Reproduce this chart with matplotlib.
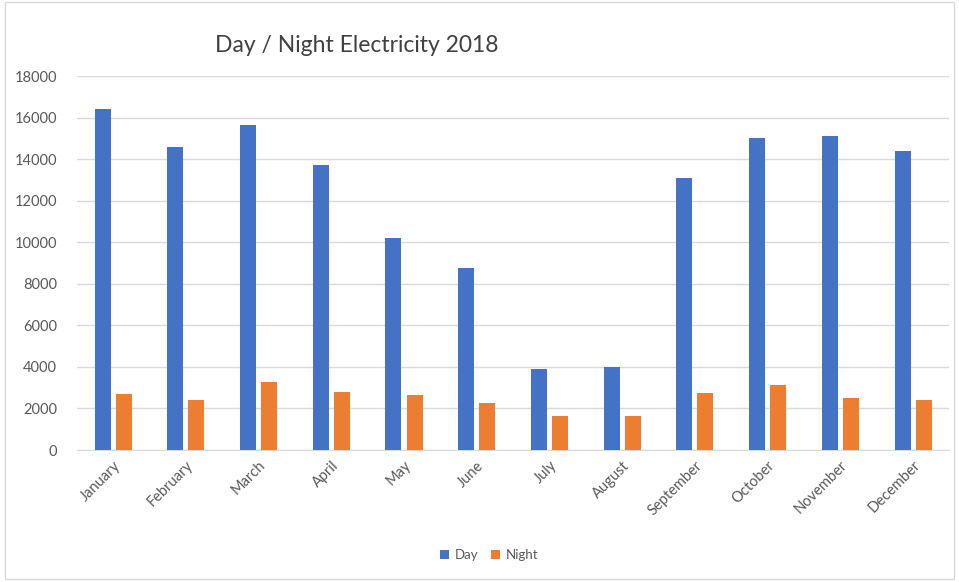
import matplotlib
matplotlib.use("Agg")
import matplotlib.pyplot as plt
import numpy as np
from matplotlib.patches import Rectangle

months = ["January", "February", "March", "April", "May", "June", "July",
          "August", "September", "October", "November", "December"]
day = [16400, 14600, 15650, 13700, 10200, 8750, 3900, 4000, 13100, 15000, 15100, 14400]
night = [2700, 2400, 3250, 2800, 2650, 2250, 1650, 1650, 2750, 3150, 2500, 2400]
yticks = [0, 2000, 4000, 6000, 8000, 10000, 12000, 14000, 16000, 18000]

plt.rcParams['font.family'] = ['Lato', 'DejaVu Sans']

fig = plt.figure(figsize=(9.59, 5.82), dpi=100)
ax = fig.add_axes([0.080, 0.2268, 0.910, 0.6425])

x = np.arange(len(months))
w = 0.22
ax.bar(x - 0.145, day, width=w, color="#4472C4", label="Day", zorder=3)
ax.bar(x + 0.145, night, width=w, color="#ED7D31", label="Night", zorder=3)

ax.set_xlim(-0.5, len(months) - 0.5)
ax.set_ylim(0, 18000)
ax.set_yticks(yticks)
ax.set_yticklabels([str(v) for v in yticks], fontsize=10.5, color="#595959")
ax.set_xticks(x)
ax.set_xticklabels(months, rotation=45, ha="right", rotation_mode="anchor",
                   fontsize=10.5, color="#595959")
ax.tick_params(axis="y", length=0, pad=14)
ax.tick_params(axis="x", length=0, pad=6)
ax.grid(axis="y", color="#d9d9d9", linewidth=1, zorder=0)
for s in ["top", "right", "left"]:
    ax.spines[s].set_visible(False)
ax.spines["bottom"].set_color("#d9d9d9")

fig.text(0.372, 0.922, "Day / Night Electricity 2018", ha="center", va="center",
         fontsize=16.5, color="#404040")

fig.legend(loc="center", bbox_to_anchor=(0.51, 0.046), ncol=2, frameon=False,
           fontsize=9.5, handlelength=0.7, handleheight=0.7, columnspacing=1.0,
           handletextpad=0.4, labelcolor="#595959")

fig.patches.append(Rectangle((0.005, 0.006), 0.99, 0.99, transform=fig.transFigure,
                             fill=False, edgecolor="#d9d9d9", linewidth=1))

fig.savefig("out.png", dpi=100)
